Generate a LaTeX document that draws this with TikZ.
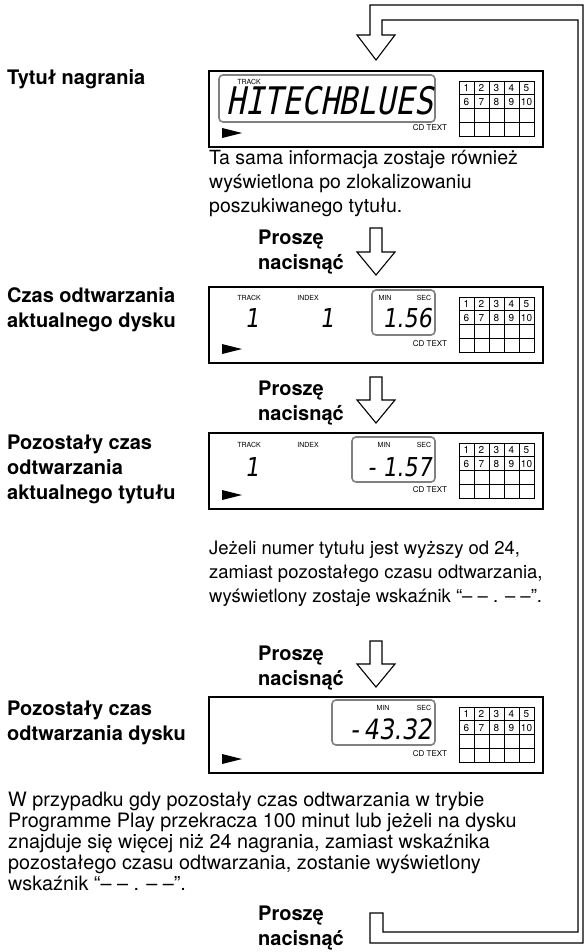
\documentclass[tikz,border=0pt]{standalone}
\usepackage{fontspec}
\setmainfont{TeX Gyre Heros}
\newfontfamily\lcdfont[FakeSlant=0.2,FakeStretch=0.82]{DejaVu Sans Mono}
\newfontfamily\segfont[FakeSlant=0.15,FakeStretch=0.85]{DejaVu Sans}

\tikzset{
  dispbox/.style={line width=1.8pt},
  lcdwin/.style={draw=gray, line width=1.6pt, rounded corners=4pt},
  bodytext/.style={font=\fontsize{19.5}{24}\selectfont, align=left, anchor=base west, inner sep=0pt},
  boldlabel/.style={font=\fontsize{20}{25}\selectfont\bfseries, align=left, anchor=base west, inner sep=0pt},
  smalltag/.style={font=\fontsize{7}{7}\selectfont, inner sep=0pt},
  gridnum/.style={font=\fontsize{10}{10}\selectfont, inner sep=0pt},
  lcdtext/.style={font=\fontsize{38}{38}\lcdfont, inner sep=0pt, anchor=east},
  segtext/.style={font=\fontsize{26}{26}\segfont, inner sep=0pt},
  pressarrow/.style={line width=1.1pt, line join=miter},
}

\begin{document}
\begin{tikzpicture}[x=1pt,y=-1pt]
\useasboundingbox (0,0) rectangle (586,952);

% return loop
\draw[pressarrow] (370,5) -- (370,35) -- (357,35) -- (376,60) -- (395,35) -- (382,35) -- (382,20)
  -- (578,20) -- (578,932) -- (383,932) -- (383,913) -- (370,913) -- (370,943) -- (583,943) -- (583,5) -- cycle;

% displays: frame, track grid, play mark, CD TEXT
\foreach \T in {71,287,433,697}{
  \draw[dispbox] (209,\T) rectangle (543,\T+76);
  \draw[line width=0.8pt] (459,\T+10) rectangle (534,\T+65);
  \foreach \c in {474,489,504,519}
    \draw[line width=0.8pt] (\c,\T+10) -- (\c,\T+65);
  \foreach \r in {23.75,37.5,51.25}
    \draw[line width=0.8pt] (459,\T+\r) -- (534,\T+\r);
  \foreach \n [evaluate=\n as \m using int(\n+5)] in {1,...,5}{
    \node[gridnum] (top\T-\n) at ({451.5+15*\n},\T+17) {\n};
    \node[gridnum] (bot\T-\n) at ({451.5+15*\n},\T+30.7) {\m};
  }
  \fill (222,\T+57) -- (242,\T+62) -- (222,\T+67) -- cycle;
  \node[smalltag, font=\fontsize{8}{8}\selectfont] (cd\T) at (430,\T+57) {CD TEXT};
}

% display 1
\draw[lcdwin] (219,75) rectangle (435,122);
\node[smalltag] (track1) at (249,82) {TRACK};
\node[lcdtext] (name1) at (433,101) {HITECHBLUES};

% display 2
\draw[lcdwin] (372,290) rectangle (435,335);
\node[smalltag] (track2) at (249,298) {TRACK};
\node[smalltag] (index2) at (308,298) {INDEX};
\node[smalltag] (min2) at (385,298) {MIN};
\node[smalltag] (sec2) at (424,298) {SEC};
\node[segtext] (tno2) at (252,318) {1};
\node[segtext] (ino2) at (327,318) {1};
\node[segtext, anchor=east] (time2) at (432,318) {1.56};

% display 3
\draw[lcdwin] (352,437) rectangle (435,482);
\node[smalltag] (track3) at (249,445) {TRACK};
\node[smalltag] (index3) at (308,445) {INDEX};
\node[smalltag] (min3) at (384,445) {MIN};
\node[smalltag] (sec3) at (424,445) {SEC};
\node[segtext] (tno3) at (252,467) {1};
\node[segtext, anchor=east] (time3) at (432,467) {- 1.57};

% display 4
\draw[lcdwin] (332,700) rectangle (435,745);
\node[smalltag] (min4) at (383,708) {MIN};
\node[smalltag] (sec4) at (424,708) {SEC};
\node[segtext, anchor=east, font=\fontsize{28}{28}\segfont] (time4) at (432,729) {-\,43.32};

% left labels (anchored at the last baseline)
\node[boldlabel] (title) at (7,85) {Tytuł nagrania};
\node[boldlabel] (disctime) at (7,327) {Czas odtwarzania\\aktualnego dysku};
\node[boldlabel] (trackrest) at (7,499) {Pozostały czas\\odtwarzania\\aktualnego tytułu};
\node[boldlabel] (discrest) at (7,740) {Pozostały czas\\odtwarzania dysku};

% notes
\node[bodytext] (note1) at (209,212) {Ta sama informacja zostaje również\\wyświetlona po zlokalizowaniu\\poszukiwanego tytułu.};
\node[bodytext, font=\fontsize{18.5}{24}\selectfont] (note2) at (209,602) {Jeżeli numer tytułu jest wyższy od 24,\\zamiast pozostałego czasu odtwarzania,\\wyświetlony zostaje wskaźnik “– – . – –”.};
\node[bodytext, font=\fontsize{19.8}{21}\selectfont] (note3) at (8,890) {W przypadku gdy pozostały czas odtwarzania w trybie\\Programme Play przekracza 100 minut lub jeżeli na dysku\\znajduje się więcej niż 24 nagrania, zamiast wskaźnika\\pozostałego czasu odtwarzania, zostanie wyświetlony\\wskaźnik “– – . – –”.};

% press arrows
\node[boldlabel] (press1) at (258,269) {Proszę\\nacisnąć};
\draw[pressarrow] (370,228) -- (370,252) -- (357,252) -- (376,275) -- (395,252) -- (382,252) -- (382,228) -- cycle;
\node[boldlabel] (press2) at (258,420) {Proszę\\nacisnąć};
\draw[pressarrow] (370,377) -- (370,400) -- (357,400) -- (376,423) -- (395,400) -- (382,400) -- (382,377) -- cycle;
\node[boldlabel] (press3) at (258,685) {Proszę\\nacisnąć};
\draw[pressarrow] (370,641) -- (370,664) -- (357,664) -- (376,687) -- (395,664) -- (382,664) -- (382,641) -- cycle;
\node[boldlabel] (press4) at (258,945) {Proszę\\nacisnąć};
\end{tikzpicture}
\end{document}
